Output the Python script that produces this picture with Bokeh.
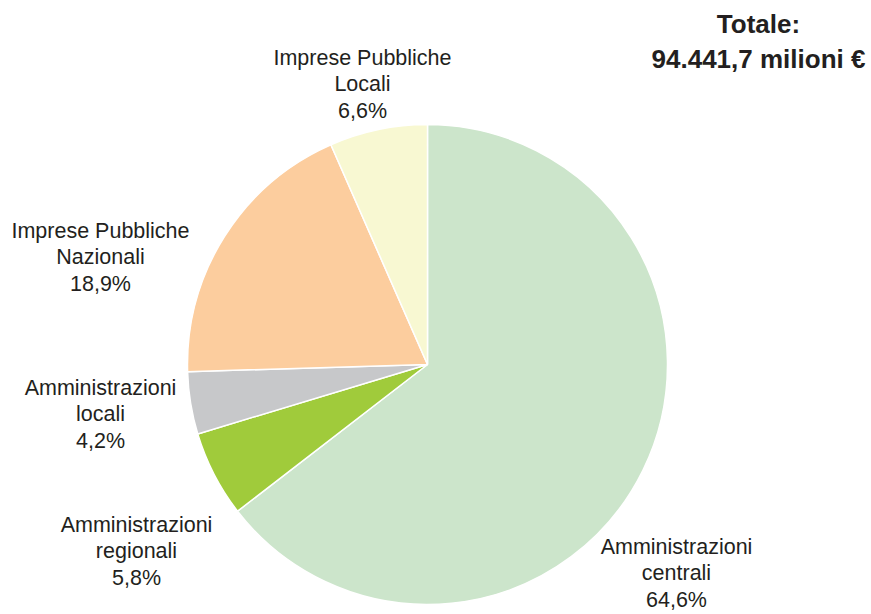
import math
from bokeh.plotting import figure
from bokeh.models import Range1d, ColumnDataSource
from bokeh.core.properties import value
from bokeh.embed import file_html
from bokeh.resources import INLINE

# ---- data ----
categories = ["Amministrazioni centrali", "Amministrazioni regionali", "Amministrazioni locali",
              "Imprese Pubbliche Nazionali", "Imprese Pubbliche Locali"]
shares = [64.6, 5.8, 4.2, 18.9, 6.6]
label_names = ["Amministrazioni\ncentrali", "Amministrazioni\nregionali", "Amministrazioni\nlocali",
               "Imprese Pubbliche\nNazionali", "Imprese Pubbliche\nLocali"]
title_lines = ["Totale:", "94.441,7 milioni €"]

# ---- style / layout ----
colors = ["#cce5cb", "#a0cb3b", "#c7c8ca", "#fccd9e", "#f8f8d2"]
W, H = 871, 614
cx, cy, R = 427, 614 - 364, 240
label_pos = [(676, 614 - 573), (136, 614 - 551), (100, 614 - 414), (100, 614 - 257), (362, 614 - 84)]

total = sum(shares)
starts, ends = [], []
cum = 0.0
for s in shares:
    starts.append(math.pi / 2 - cum / total * 2 * math.pi)
    cum += s
    ends.append(math.pi / 2 - cum / total * 2 * math.pi)

p = figure(width=W, height=H, output_backend="svg", toolbar_location=None,
           x_range=Range1d(0, W), y_range=Range1d(0, H),
           min_border=0, outline_line_color=None)
p.axis.visible = False
p.grid.visible = False
p.background_fill_color = "white"
p.border_fill_color = "white"

src = ColumnDataSource(dict(start=starts, end=ends, color=colors, cat=categories))
p.wedge(x=cx, y=cy, radius=R, start_angle="start", end_angle="end", direction="clock",
        fill_color="color", line_color="white", line_width=1.5, source=src)

texts = [f"{n}\n{str(s).replace('.', ',')}%" for n, s in zip(label_names, shares)]
lsrc = ColumnDataSource(dict(x=[q[0] for q in label_pos], y=[q[1] for q in label_pos], t=texts))
p.text(x="x", y="y", text="t", source=lsrc, text_align="center", text_baseline="middle",
       text_font=value("Liberation Sans"), text_font_size="21.5px", text_color="#231f20",
       text_line_height=1.12)

tsrc = ColumnDataSource(dict(x=[758, 758], y=[614 - 23, 614 - 58], t=title_lines))
p.text(x="x", y="y", text="t", source=tsrc, text_align="center", text_baseline="middle",
       text_font=value("Liberation Sans"), text_font_size="26px", text_font_style="bold",
       text_color="#231f20")

open("out.html", "w").write(file_html(p, INLINE))
